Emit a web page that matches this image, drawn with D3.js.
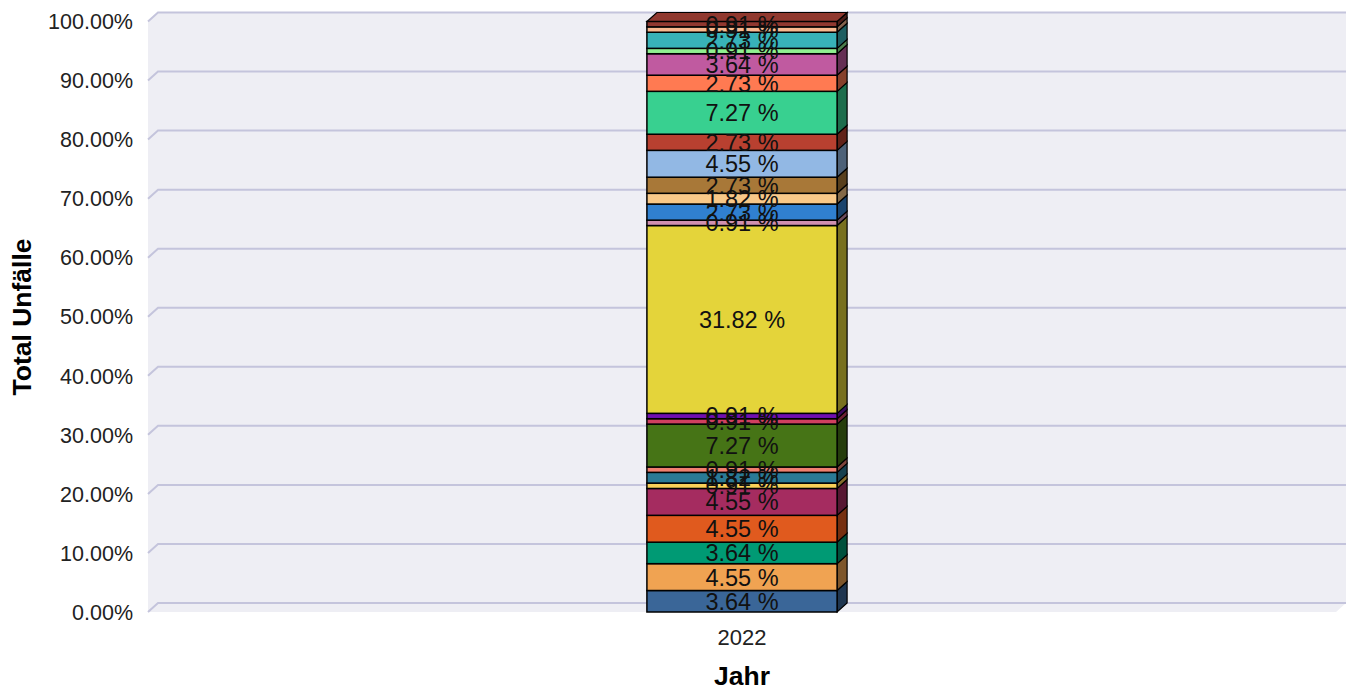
<!DOCTYPE html>
<html>
<head>
<meta charset="utf-8">
<script src="https://cdn.jsdelivr.net/npm/d3@7"></script>
<style>
  body { margin: 0; background: #fff; }
  text { font-family: "Liberation Sans", Arial, sans-serif; }
</style>
</head>
<body>
<div class="chart"></div>
<script>
var jahre = ['2022'];
// Anteile von unten nach oben (in %)
var anteile = [3.64, 4.55, 3.64, 4.55, 4.55, 0.91, 1.82, 0.91, 7.27, 0.91, 0.91, 31.82,
               0.91, 2.73, 1.82, 2.73, 4.55, 2.73, 7.27, 2.73, 3.64, 0.91, 2.73, 0.91, 0.91];
var farben = ['#3a6698', '#f0a352', '#009a74', '#e05a1e', '#a52c60', '#f8d058', '#2a7a96', '#f08070',
              '#467416', '#d04060', '#7010b0', '#e4d43a', '#d090b0', '#3080d0', '#f8c888', '#a87838',
              '#92b8e4', '#b84030', '#38d090', '#ff7a52', '#c05aa0', '#90f090', '#38b2b8', '#f8b890', '#903830'];
var yTicks = [0, 10, 20, 30, 40, 50, 60, 70, 80, 90, 100];

var W = 1353, H = 692;
var dx = 10, dy = 9;            // 3D-Tiefe
var pLeft = 148, pRight = 1336, pBottom = 612, pTop = 21.5;

var svg = d3.select('.chart').append('svg')
            .attr('width', W)
            .attr('height', H);

var y = d3.scaleLinear().domain([0, 100]).range([pBottom, pTop]);
var x = d3.scaleBand().domain(jahre).range([pLeft, pRight]).padding(0.724);

// Hintergrund (Rueckwand)
svg.append('polygon')
   .attr('points', [[pLeft, pTop], [pLeft + dx, pTop - dy], [pRight + dx, pTop - dy],
                    [pRight + dx, pBottom - dy], [pRight, pBottom], [pLeft, pBottom]].join(' '))
   .attr('fill', '#eeeef4');

// Gitterlinien
yTicks.forEach(function(t) {
  svg.append('polyline')
     .attr('points', [[pLeft, y(t)], [pLeft + dx, y(t) - dy], [pRight + dx, y(t) - dy]].join(' '))
     .attr('fill', 'none')
     .attr('stroke', '#c4c4dc')
     .attr('stroke-width', 2);
  svg.append('text')
     .attr('x', 133)
     .attr('y', y(t))
     .attr('dy', '0.36em')
     .attr('text-anchor', 'end')
     .attr('font-size', '21.5px')
     .attr('fill', '#222')
     .text(d3.format('.2f')(t) + '%');
});

// Stapel berechnen
var summe = d3.sum(anteile);
var stapel = [];
var acc = 0;
anteile.forEach(function(v, i) {
  stapel.push({ v: v, y0: acc / summe * 100, y1: (acc + v) / summe * 100, c: farben[i] });
  acc += v;
});

var x0 = x('2022'), x1 = x0 + x.bandwidth();

stapel.forEach(function(s, i) {
  var g = svg.append('g');
  // Seitenflaeche
  g.append('polygon')
   .attr('points', [[x1, y(s.y1)], [x1 + dx, y(s.y1) - dy], [x1 + dx, y(s.y0) - dy], [x1, y(s.y0)]].join(' '))
   .attr('fill', d3.color(s.c).darker(1.8))
   .attr('stroke', '#000')
   .attr('stroke-width', 1.2);
  // Deckflaeche fuer oberstes Segment
  if (i === stapel.length - 1) {
    g.append('polygon')
     .attr('points', [[x0, y(s.y1)], [x0 + dx, y(s.y1) - dy], [x1 + dx, y(s.y1) - dy], [x1, y(s.y1)]].join(' '))
     .attr('fill', s.c)
     .attr('stroke', '#000')
     .attr('stroke-width', 1.2);
  }
  // Vorderseite
  g.append('rect')
   .attr('x', x0)
   .attr('y', y(s.y1))
   .attr('width', x.bandwidth())
   .attr('height', y(s.y0) - y(s.y1))
   .attr('fill', s.c)
   .attr('stroke', '#000')
   .attr('stroke-width', 1.5);
});

// Beschriftungen
stapel.forEach(function(s) {
  svg.append('text')
     .attr('x', (x0 + x1) / 2)
     .attr('y', y((s.y0 + s.y1) / 2))
     .attr('dy', '0.36em')
     .attr('text-anchor', 'middle')
     .attr('font-size', '23.5px')
     .attr('fill', '#111')
     .text(d3.format('.2f')(s.v) + ' %');
});

// Achsen
svg.append('text')
   .attr('x', (x0 + x1) / 2)
   .attr('y', 637)
   .attr('dy', '0.36em')
   .attr('text-anchor', 'middle')
   .attr('font-size', '22px')
   .attr('fill', '#222')
   .text('2022');

svg.append('text')
   .attr('x', (x0 + x1) / 2)
   .attr('y', 685)
   .attr('text-anchor', 'middle')
   .attr('font-size', '26.5px')
   .attr('font-weight', 'bold')
   .text('Jahr');

svg.append('text')
   .attr('transform', 'translate(31,317) rotate(-90)')
   .attr('text-anchor', 'middle')
   .attr('font-size', '26.5px')
   .attr('font-weight', 'bold')
   .text('Total Unfälle');
</script>
</body>
</html>
